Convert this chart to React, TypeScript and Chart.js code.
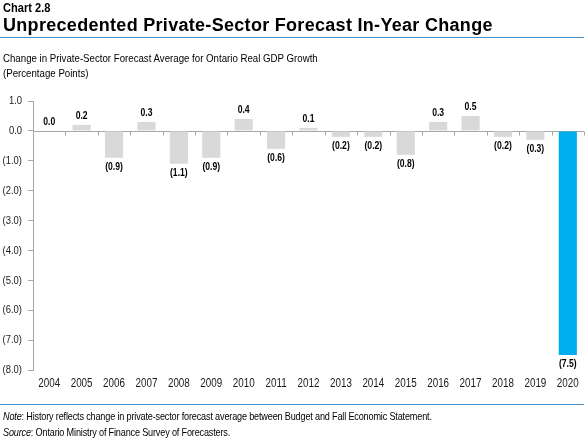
import React, { useEffect, useRef } from "react";
import { Chart, registerables } from "chart.js";
Chart.register(...registerables);

const years = ["2004", "2005", "2006", "2007", "2008", "2009", "2010", "2011", "2012", "2013", "2014", "2015", "2016", "2017", "2018", "2019", "2020"];
const changes = [0.0, 0.2, -0.9, 0.3, -1.1, -0.9, 0.4, -0.6, 0.1, -0.2, -0.2, -0.8, 0.3, 0.5, -0.2, -0.3, -7.5];
const highlightYears = ["2020"];
const yTicksRange = [-8, 1];

const SANS = '"Liberation Sans", Arial, sans-serif';
const NARROW_SCALE = 0.82;
const GRAY = "#D9D9D9";
const CYAN = "#00AEEF";
const AXIS = "#A6A6A6";
const TEXT = "#1a1a1a";

const fmt = (v: number) => (v < 0 ? `(${Math.abs(v).toFixed(1)})` : v.toFixed(1));

function narrowText(ctx: CanvasRenderingContext2D, text: string, x: number, y: number, align: CanvasTextAlign, baseline: CanvasTextBaseline) {
  ctx.save();
  ctx.translate(x, y);
  ctx.scale(NARROW_SCALE, 1);
  ctx.textAlign = align;
  ctx.textBaseline = baseline;
  ctx.fillText(text, 0, 0);
  ctx.restore();
}

const labelPlugin = {
  id: "valueLabels",
  afterDatasetsDraw(chart: any) {
    const ctx = chart.ctx;
    const meta = chart.getDatasetMeta(0);
    ctx.save();
    ctx.font = `bold 10.5px ${SANS}`;
    ctx.fillStyle = "#000";
    meta.data.forEach((el: any, i: number) => {
      const v = changes[i];
      if (v >= 0) narrowText(ctx, fmt(v), el.x, el.y - 4, "center", "bottom");
      else narrowText(ctx, fmt(v), el.x, el.y + 4, "center", "top");
    });
    ctx.restore();
  },
};

const tickLabelPlugin = {
  id: "tickLabels",
  afterDraw(chart: any) {
    const ctx = chart.ctx;
    const xs = chart.scales.x;
    const ys = chart.scales.y;
    ctx.save();
    ctx.fillStyle = TEXT;
    ctx.font = `11.5px ${SANS}`;
    ys.ticks.forEach((t: any, i: number) => {
      narrowText(ctx, fmt(t.value), ys.right - 11, ys.getPixelForTick(i), "right", "middle");
    });
    ctx.font = `12px ${SANS}`;
    xs.ticks.forEach((t: any, i: number) => {
      narrowText(ctx, years[i], xs.getPixelForTick(i), chart.chartArea.bottom + 14, "center", "middle");
    });
    ctx.restore();
  },
};

const zeroLinePlugin = {
  id: "zeroLine",
  beforeDatasetsDraw(chart: any) {
    const ctx = chart.ctx;
    const y = Math.round(chart.scales.y.getPixelForValue(0)) + 0.5;
    const xs = chart.scales.x;
    const { left, right } = chart.chartArea;
    ctx.save();
    ctx.strokeStyle = AXIS;
    ctx.lineWidth = 1;
    ctx.beginPath();
    ctx.moveTo(left, y);
    ctx.lineTo(right, y);
    const n = years.length;
    for (let i = 0; i <= n; i++) {
      const x = Math.round(i === 0 ? left : i === n ? right : (xs.getPixelForValue(i - 1) + xs.getPixelForValue(i)) / 2) + 0.5;
      ctx.moveTo(x, y);
      ctx.lineTo(x, y + 4);
    }
    ctx.stroke();
    ctx.restore();
  },
};

function BarChart() {
  const ref = useRef<HTMLCanvasElement>(null);
  useEffect(() => {
    if (!ref.current) return;
    const chart = new Chart(ref.current, {
      type: "bar",
      data: {
        labels: years,
        datasets: [
          {
            data: changes,
            backgroundColor: years.map((y) => (highlightYears.includes(y) ? CYAN : GRAY)),
            borderWidth: 0,
            categoryPercentage: 1,
            barPercentage: 0.56,
          },
        ],
      },
      options: {
        responsive: false,
        animation: false,
        devicePixelRatio: 1,
        layout: { padding: { top: 101, right: 1, bottom: 49, left: 0 } },
        plugins: { legend: { display: false }, tooltip: { enabled: false } },
        scales: {
          x: {
            offset: true,
            grid: { display: false, drawTicks: false },
            border: { display: false },
            ticks: { display: false },
            afterFit: (s: any) => { s.height = 24; },
          },
          y: {
            min: yTicksRange[0],
            max: yTicksRange[1],
            ticks: { stepSize: 1, display: false },
            grid: { drawOnChartArea: false, drawTicks: true, tickLength: 5, color: AXIS },
            border: { display: true, color: AXIS },
            afterFit: (s: any) => { s.width = 33; },
          },
        },
      },
      plugins: [zeroLinePlugin, labelPlugin, tickLabelPlugin],
    });
    return () => chart.destroy();
  }, []);
  return <canvas ref={ref} width={585} height={443} style={{ position: "absolute", left: 0, top: 0 }} />;
}

function Narrow({ top, size, bold, lineHeight, children, spacing = 0 }: any) {
  return (
    <div
      style={{
        position: "absolute",
        left: 3,
        top,
        whiteSpace: "nowrap",
        color: "#000",
        fontFamily: SANS,
        fontSize: size,
        fontWeight: bold ? "bold" : "normal",
        lineHeight: `${lineHeight}px`,
        letterSpacing: `${spacing}px`,
        transform: `scaleX(${NARROW_SCALE})`,
        transformOrigin: "0 0",
      }}
    >
      {children}
    </div>
  );
}

export default function App() {
  return (
    <div style={{ position: "fixed", left: 0, top: 0, width: 585, height: 443, background: "#fff", overflow: "hidden" }}>
      <BarChart />
      <Narrow top={0} size={13.5} bold lineHeight={16}>Chart 2.8</Narrow>
      <div
        style={{
          position: "absolute", left: 3, top: 14, whiteSpace: "nowrap", color: "#000",
          fontFamily: SANS, fontWeight: "bold", fontSize: 18, lineHeight: "22px", letterSpacing: "0.3px",
        }}
      >
        Unprecedented Private-Sector Forecast In-Year Change
      </div>
      <div style={{ position: "absolute", left: 0, top: 37, width: 584, height: 1, background: "#4A90C8" }} />
      <Narrow top={51} size={11.8} lineHeight={15}>
        Change in Private-Sector Forecast Average for Ontario Real GDP Growth
        <br />
        (Percentage Points)
      </Narrow>
      <div style={{ position: "absolute", left: 0, top: 404, width: 584, height: 1, background: "#4A90C8" }} />
      <Narrow top={408} size={11.1} lineHeight={16} spacing={-0.2}>
        <i>Note</i>: History reflects change in private-sector forecast average between Budget and Fall Economic Statement.
        <br />
        <i>Source</i>: Ontario Ministry of Finance Survey of Forecasters.
      </Narrow>
    </div>
  );
}
